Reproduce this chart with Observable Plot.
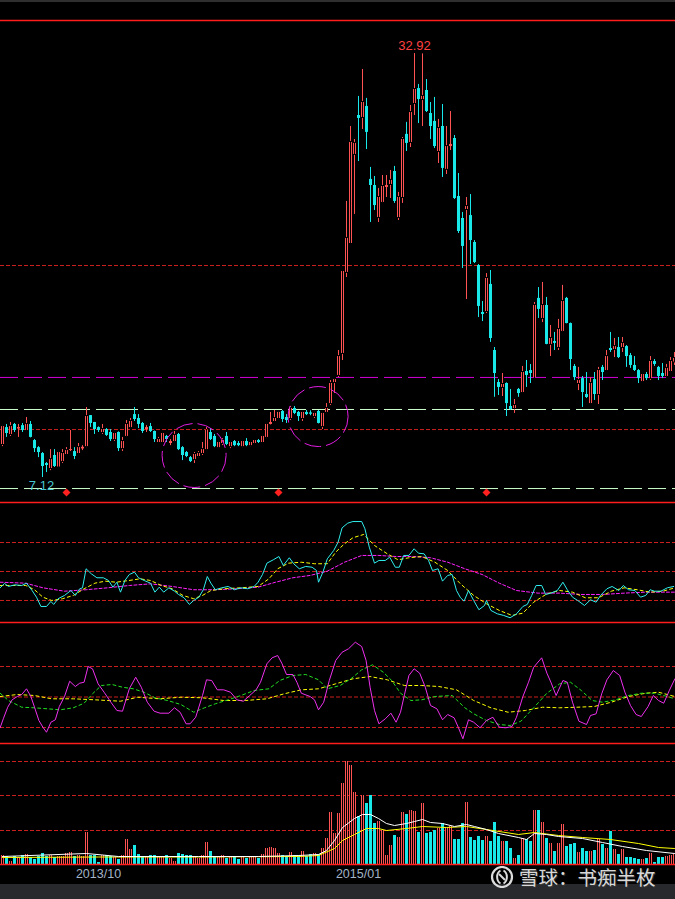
<!DOCTYPE html>
<html><head><meta charset="utf-8">
<script src="https://cdn.jsdelivr.net/npm/d3@7"></script>
<script src="https://cdn.jsdelivr.net/npm/@observablehq/plot@0.6"></script>
<style>
html,body{margin:0;padding:0;background:#000;}
#wrap{position:relative;width:675px;height:899px;background:#000;overflow:hidden;font-family:"Liberation Sans",Arial,sans-serif;}
.p{position:absolute;left:0;}
#topbar{position:absolute;left:0;top:0;width:675px;height:2px;background:#2f2f2f;}
#botbar{position:absolute;left:0;top:884px;width:675px;height:15px;background:#28292d;}
#wm{position:absolute;left:490px;top:866px;height:22px;display:flex;align-items:center;gap:5px;}
#wm span{font-family:"Noto Sans CJK SC",sans-serif;font-size:19.5px;line-height:22px;color:rgba(236,236,236,0.92);text-shadow:1px 1px 1px rgba(60,60,60,0.9);letter-spacing:0px;}
</style></head><body>
<div id="wrap">
  <div id="topbar"></div>
  <div id="botbar"></div>
  <div class="p" id="p1" style="top:0px"></div>
  <div class="p" id="p2" style="top:500px"></div>
  <div class="p" id="p3" style="top:620px"></div>
  <div class="p" id="p4" style="top:741px"></div>
  <div id="wm">
    <svg width="24" height="22" viewBox="0 0 24 22"><circle cx="12" cy="11" r="10" fill="none" stroke="#dcdcdc" stroke-width="2.2"/><path d="M10.5 4.5 C6 7 6 15 10.5 17.5" fill="none" stroke="#dcdcdc" stroke-width="2"/><path d="M13.5 4.5 C18 7 18 15 13.5 17.5" fill="none" stroke="#dcdcdc" stroke-width="2"/><path d="M9 8 L15 14" stroke="#dcdcdc" stroke-width="2"/></svg>
    <span>雪球：书痴半枚</span>
  </div>
</div>
<script>
// ---- weekly candles [open, high, low, close] ----
const candles = [
[9.13,10.28,9.00,10.22],[10.16,10.35,9.56,9.80],[9.74,10.47,9.62,10.22],[10.35,10.41,9.86,9.98],[10.07,10.35,9.56,10.16],
[10.28,10.41,9.86,9.98],[9.98,10.77,9.92,10.35],[10.35,10.53,9.53,9.56],[9.37,9.43,8.64,8.88],[8.94,9.00,8.33,8.64],
[8.58,8.64,7.12,7.79],[7.97,8.03,7.42,7.85],[7.67,8.82,7.54,8.21],[8.46,8.82,7.73,7.79],[7.76,8.67,7.73,8.64],
[8.09,8.82,7.97,8.58],[8.52,8.94,8.46,8.76],[8.76,9.98,8.70,8.82],[8.70,8.94,8.21,8.40],[8.58,9.19,8.52,8.94],
[8.86,9.06,8.76,8.96],[9.00,11.38,8.94,10.83],[10.89,10.89,10.16,10.41],[10.47,10.47,9.74,10.04],[10.16,10.20,9.86,9.98],
[9.86,10.35,9.74,10.04],[10.04,10.10,9.62,9.68],[9.86,10.04,9.31,9.43],[9.43,9.86,9.31,9.80],[9.86,9.90,8.70,8.88],
[8.88,9.56,8.70,9.31],[9.62,10.59,9.56,10.35],[10.16,10.71,10.10,10.53],[10.95,11.38,10.53,10.65],[10.71,10.95,10.10,10.35],
[10.41,10.47,9.80,9.92],[10.04,10.28,9.86,10.16],[10.22,10.41,9.86,9.92],[9.92,9.95,9.25,9.43],[9.25,9.56,9.19,9.43],
[9.25,9.86,9.19,9.80],[9.62,9.68,9.25,9.43],[9.19,9.43,9.06,9.31],[9.31,9.92,9.25,9.68],[9.74,9.80,8.76,8.82],
[8.94,9.00,8.15,8.46],[8.64,8.70,8.33,8.40],[8.33,8.40,8.03,8.09],[8.21,8.64,7.97,8.52],[8.40,8.70,8.33,8.58],
[8.58,9.25,8.46,8.82],[8.82,10.16,8.76,9.98],[9.86,10.10,9.37,9.43],[9.62,9.74,8.94,9.00],[8.94,9.31,8.88,9.25],
[9.19,9.49,9.06,9.37],[9.62,9.86,9.06,9.13],[9.00,9.31,8.88,9.25],[9.31,9.37,9.00,9.06],[9.19,9.31,9.00,9.06],
[9.00,9.37,8.94,9.31],[9.31,9.49,9.00,9.06],[9.06,9.31,9.00,9.25],[9.19,9.43,9.13,9.37],[9.37,9.43,9.19,9.25],
[9.25,9.68,9.22,9.62],[9.56,10.41,9.49,10.35],[10.35,11.08,10.32,10.47],[10.53,11.20,10.47,10.71],[10.71,11.14,10.65,11.08],
[11.14,11.20,10.47,10.65],[10.77,10.95,10.41,10.59],[10.71,11.44,10.59,11.32],[11.32,11.44,10.95,11.02],[11.08,11.14,10.53,10.83],
[10.71,11.14,10.53,11.08],[11.08,11.20,10.89,10.95],[11.05,11.18,10.88,10.97],[10.83,11.08,10.71,11.02],[11.14,11.20,10.38,10.41],
[10.22,11.08,10.04,11.02],[11.08,11.62,11.02,11.32],[11.62,13.02,11.50,12.84],[12.90,13.14,12.23,13.08],[13.33,14.85,13.20,14.48],
[14.67,19.72,14.24,19.66],[19.60,23.92,19.29,21.67],[21.36,28.48,21.30,27.51],[26.78,27.69,23.13,27.45],[29.15,30.31,26.35,28.97],
[29.03,31.95,28.30,29.94],[29.70,30.19,27.08,28.12],[25.26,25.99,22.64,24.89],[24.89,25.44,23.37,23.67],[22.94,24.71,22.64,24.16],
[23.86,25.50,23.80,24.83],[24.77,25.50,24.16,24.89],[24.95,25.80,24.10,25.20],[25.74,26.05,23.80,23.92],[22.94,24.47,22.76,24.16],
[24.16,27.81,23.80,27.69],[28.00,28.73,26.96,27.45],[27.51,29.76,27.20,29.33],[29.88,32.92,29.15,30.73],[30.79,31.04,28.66,30.12],
[30.12,32.90,28.48,30.31],[30.67,31.34,29.33,29.39],[29.27,29.94,27.69,28.48],[28.79,30.25,27.14,27.26],[26.96,28.91,26.23,28.36],
[28.48,29.82,25.38,25.93],[25.87,28.48,25.56,27.26],[27.26,29.39,27.02,27.39],[27.75,27.93,24.04,24.10],[24.22,25.62,21.97,22.09],
[22.88,23.25,19.84,21.18],[23.43,24.16,17.95,23.61],[23.06,24.34,20.08,21.54],[21.42,21.54,20.14,20.20],[20.02,20.08,16.86,17.53],
[17.16,17.83,16.61,17.04],[17.22,19.53,17.10,19.23],[18.87,19.72,15.34,15.58],[14.85,15.03,12.00,13.45],[12.90,13.08,12.11,12.60],
[12.60,13.45,12.05,12.78],[12.84,12.88,10.83,11.62],[11.44,12.48,11.20,11.26],[11.32,11.87,11.02,11.50],[12.48,12.54,12.00,12.23],
[12.29,13.88,12.23,13.51],[13.57,14.24,12.60,13.33],[13.63,14.00,12.84,13.45],[13.20,17.77,13.18,17.59],[18.02,18.68,16.80,17.35],
[16.80,18.99,16.55,17.59],[17.59,18.08,15.20,15.22],[15.22,16.37,14.48,15.58],[15.40,15.95,14.85,15.28],[15.03,16.74,14.85,16.13],
[16.01,18.81,15.95,17.83],[18.02,18.08,16.47,16.49],[16.49,16.52,13.63,14.30],[13.88,14.00,13.02,13.20],[12.84,13.82,12.41,13.02],
[13.14,13.27,11.38,12.29],[12.17,13.51,11.93,11.99],[11.62,13.20,11.60,12.84],[13.08,13.51,11.81,12.17],[12.17,13.82,11.56,13.63],
[13.82,13.94,13.02,13.51],[13.63,14.85,13.57,14.48],[14.97,15.95,14.73,14.85],[14.91,15.58,14.42,15.09],[15.03,15.64,14.36,14.42],
[15.03,15.64,14.73,15.28],[15.09,15.15,13.82,14.48],[14.54,14.67,13.76,13.94],[13.94,14.48,13.57,13.63],[13.63,13.69,12.84,13.14],
[12.96,13.45,12.90,13.39],[13.39,13.51,13.02,13.14],[13.14,14.48,13.02,14.18],[14.18,14.30,13.88,14.00],[13.82,13.88,13.02,13.27],
[13.45,14.06,13.14,13.27],[13.27,14.00,13.20,13.76],[13.57,14.42,13.51,14.18],[14.15,14.73,13.94,14.36]
];
// ---- weekly volume ----
const volumes = [
9,8,3,8,7,9,10,7,5,8, 11,8,9,7,8,8,11,12,8,9, 8,32,9,9,2,9,9,8,7,5, 9,25,15,19,10,8,7,9,9,8,
8,9,6,3,11,10,9,9,8,6, 9,22,13,8,7,9,6,8,7,5, 7,6,7,7,6,10,16,17,16,11, 9,8,12,9,9,13,8,10,11,10,
16,26,52,31,51,81,103,99,72,48, 69,61,69,41,43,34,9,19,29,27, 52,50,54,53,32,61,31,32,34,36,
41,37,38,25,25,41,62,27,24,28, 24,28,23,42,28,23,23,16,6,9, 26,25,23,54,54,42,26,21,13,21,
40,18,20,21,12,16,13,13,14,25, 20,16,33,15,10,15,7,7,6,5, 5,6,11,2,7,7,8,9,10
];
// volume moving averages [week, value]
const volMaWhite = [[0,8],[21,11],[29,8],[49,8],[64,8],[74,9],[79,10],[81,14],[83,24],[85,37],[88,46],[90,50],[92,50],[94,46],[96,41],[98,39],[101,41],[103,43],[105,45],[107,42],[110,41],[113,38],[116,40],[118,38],[121,35],[124,31],[129,27],[131,25],[133,31],[136,30],[139,28],[145,26],[150,22],[155,18],[161,14],[168,11]];
const volMaYellow = [[0,7],[24,7.5],[49,7.5],[74,8],[79,9],[83,16],[85,24],[88,30],[91,36],[94,36],[96,34],[101,36],[105,38],[111,37],[116,38],[121,35],[129,30],[133,32],[139,29],[145,27],[152,25],[159,21],[164,17],[168,16]];
// ---- indicator panel 1 [week, value] ----
const ind1Fast = [[-0.6,33.1],[0.5,37.6],[1.5,34.5],[3.1,36.2],[4.8,35.5],[6.0,37.9],[7.4,30.3],[8.5,23.4],[9.6,13.8],[11.0,13.8],[12.1,19.0],[12.8,15.9],[13.9,21.8],[15.5,25.2],[17.1,30.3],[18.2,25.2],[19.3,32.1],[20.0,33.1],[20.9,52.8],[22.2,47.6],[23.6,43.5],[25.2,43.5],[26.5,40.7],[27.6,33.8],[28.6,38.9],[29.5,28.6],[30.6,40.7],[31.7,46.9],[33.0,49.3],[34.0,43.5],[35.4,40.7],[37.0,37.9],[38.1,28.6],[39.2,33.8],[40.3,28.6],[41.6,33.1],[43.0,29.6],[44.0,26.2],[45.4,22.8],[46.7,15.9],[47.8,20.0],[49.1,23.4],[50.2,31.1],[51.2,44.8],[52.1,37.9],[53.2,31.1],[54.8,33.1],[56.4,34.5],[58.0,31.1],[59.6,33.1],[61.3,32.1],[62.9,34.5],[63.9,38.9],[65.0,46.9],[66.1,58.6],[67.7,62.1],[69.1,65.5],[70.2,56.2],[71.7,64.2],[72.8,58.0],[74.2,52.8],[75.8,55.2],[77.4,54.4],[78.5,51.0],[79.0,38.9],[80.1,49.3],[81.2,63.1],[82.8,71.7],[83.9,80.3],[84.9,95.2],[86.3,100.0],[87.6,101.7],[89.8,101.7],[90.6,94.2],[91.7,75.1],[93.0,58.6],[94.1,61.4],[95.7,61.4],[96.8,64.8],[98.2,54.4],[99.2,54.4],[100.3,66.6],[101.6,66.6],[102.9,73.5],[104.0,68.9],[105.4,68.3],[106.5,61.4],[107.5,51.0],[108.9,52.8],[110.0,40.0],[111.3,45.9],[112.4,46.9],[113.5,30.3],[114.5,22.8],[115.4,19.3],[116.5,30.3],[117.8,20.0],[119.1,10.4],[120.5,14.8],[121.0,20.0],[122.1,9.7],[123.7,6.2],[125.3,4.5],[126.9,2.1],[128.5,6.2],[130.1,13.8],[131.2,15.9],[132.3,25.2],[133.4,35.5],[134.8,35.5],[135.8,26.2],[137.1,27.6],[138.7,30.3],[140.1,38.9],[141.2,31.1],[142.5,23.4],[143.8,20.0],[145.5,14.8],[147.0,20.7],[148.4,18.2],[149.5,25.2],[151.1,32.1],[152.4,34.5],[154.1,30.3],[155.2,35.5],[156.5,31.1],[158.1,30.3],[159.5,23.4],[160.8,25.2],[161.9,31.1],[163.0,29.6],[164.6,29.6],[166.2,33.1],[167.8,34.5]];
const ind1Mid = [[-0.6,35.5],[2.6,35.5],[5.8,35.5],[8.0,31.1],[10.1,23.4],[12.3,20.0],[15.0,21.8],[17.7,25.2],[20.4,32.1],[23.1,37.9],[25.7,40.0],[28.4,38.9],[31.7,40.7],[34.4,42.4],[37.0,40.7],[39.7,35.5],[42.4,32.1],[45.1,25.2],[47.8,21.8],[50.0,25.2],[52.1,30.3],[55.3,32.1],[59.6,33.1],[63.9,34.5],[66.6,42.4],[68.8,52.8],[71.5,58.6],[74.7,59.6],[78.0,58.0],[81.2,58.0],[83.3,70.0],[85.5,78.7],[87.6,84.9],[90.3,88.3],[93.0,76.9],[96.2,68.3],[98.9,62.1],[101.6,64.2],[104.8,65.5],[108.1,59.6],[111.3,51.0],[114.5,37.2],[117.8,25.2],[121.0,16.6],[124.2,9.7],[127.4,4.5],[130.1,6.9],[132.8,18.2],[136.1,26.9],[139.3,30.3],[142.5,28.6],[145.7,22.8],[149.0,22.8],[152.2,29.6],[155.4,33.1],[158.7,31.1],[161.9,28.6],[165.1,29.6],[168.1,33.1]];
const ind1Slow = [[-0.6,38.9],[5.8,37.9],[10.1,33.1],[15.5,29.6],[20.9,31.1],[26.3,33.1],[31.7,35.5],[37.0,37.2],[42.4,34.5],[47.8,31.1],[53.2,31.1],[58.6,32.1],[63.9,33.8],[68.3,38.9],[72.6,43.5],[76.9,45.9],[81.2,50.3],[85.5,59.6],[89.8,66.6],[94.1,66.6],[98.4,65.5],[102.7,65.5],[107.0,64.2],[111.3,59.6],[115.6,52.8],[119.9,46.9],[124.2,37.9],[128.5,30.3],[133.9,27.6],[139.3,27.6],[144.7,26.2],[150.0,26.2],[155.4,27.6],[160.8,28.6],[168.1,28.6]];
// ---- indicator panel 2 [week, value] ----
const ind2Main = [[-0.6,-101],[0.2,-71.5],[1.3,-33.5],[2.4,-9.2],[3.7,1.6],[4.8,8.2],[6.0,26.9],[7.1,1.6],[8.0,-33.5],[9.1,-77.1],[10.1,-99],[11.0,-115.5],[12.1,-82.7],[13.2,-74.8],[14.2,-31.2],[15.5,1.6],[16.8,51.8],[18.2,34.4],[19.3,45.3],[20.4,48.5],[21.4,100],[22.5,92.5],[23.9,43.3],[25.4,15.7],[27.1,-17.1],[28.6,-44.3],[30.0,-46.6],[31.7,26.9],[33.3,64.9],[34.7,32.1],[36.2,-17.1],[37.9,-46.6],[39.4,-53.1],[41.6,-53.1],[43.0,-35.4],[44.4,-49.9],[45.9,-87.9],[46.9,-87.9],[48.3,-66.3],[50.0,4.9],[51.0,56.4],[52.3,54.1],[53.7,23.6],[55.3,23.6],[57.0,15.7],[58.6,-9.2],[60.2,-13.8],[61.8,4.9],[63.4,23.6],[64.5,48.5],[66.1,108.9],[67.4,128.6],[68.8,136.1],[69.9,108.9],[71.0,73.8],[72.6,73.8],[73.6,48.5],[74.7,12.5],[76.9,1.6],[78.0,-9.2],[79.0,-42.0],[80.3,-17.1],[81.7,54.1],[83.3,119.7],[84.9,146.9],[86.5,158.1],[88.2,179.7],[89.8,165.6],[90.9,119.7],[91.9,32.1],[93.0,-44.3],[94.1,-87.9],[95.7,-71.5],[97.1,-53.1],[98.4,-82.7],[99.5,-49.9],[100.5,8.2],[101.6,70.5],[102.9,92.5],[104.3,78.1],[105.7,32.1],[107.0,-27.9],[108.6,-38.7],[110.0,-74.8],[111.3,-57.4],[112.9,-68.2],[114.0,-101],[115.1,-137.1],[116.5,-74.8],[117.8,-82.7],[119.4,-101],[121.0,-77.1],[122.6,-66.3],[124.2,-99],[125.8,-101],[127.4,-96.8],[128.5,-66.3],[130.1,1.6],[131.5,48.5],[132.8,97.7],[134.8,128.6],[136.1,78.1],[137.1,48.5],[138.4,4.9],[140.1,54.1],[141.2,48.5],[142.5,-17.1],[144.1,-79.4],[146.0,-90.2],[147.0,-60.7],[148.4,-55.1],[149.8,10.5],[151.1,56.4],[152.7,86.9],[154.3,70.5],[155.6,15.7],[157.0,-27.9],[158.4,-57.4],[159.7,-64.0],[161.4,-31.2],[162.7,4.9],[164.0,-11.5],[165.3,-20.3],[166.7,21.3],[168.1,59.7]];
const ind2Green = [[-0.6,12.5],[1.5,-11.5],[4.8,-33.5],[8.0,-35.4],[11.2,-38.7],[14.4,-42.0],[17.7,-35.4],[20.4,-20.3],[22.5,10.5],[24.7,37.7],[27.4,41.0],[30.0,32.1],[32.7,26.9],[35.4,15.7],[38.1,-2.6],[41.3,-11.5],[44.6,-24.6],[47.8,-49.9],[50.5,-35.4],[53.2,-22.3],[56.4,-9.2],[59.6,4.9],[62.9,21.3],[66.6,26.9],[69.3,54.1],[72.6,70.5],[75.8,73.8],[79.0,56.4],[81.2,26.9],[84.4,37.7],[87.1,59.7],[89.8,89.2],[92.5,105.6],[95.2,81.3],[97.3,54.1],[99.5,12.5],[102.1,-11.5],[104.8,-9.2],[108.1,1.6],[112.4,4.9],[115.6,-35.4],[117.8,-55.1],[121.0,-77.1],[124.2,-90.2],[126.9,-93.5],[129.6,-79.4],[132.8,-35.4],[136.1,12.5],[139.3,43.3],[142.0,48.5],[144.7,21.3],[147.4,-11.5],[150.0,-17.1],[153.3,-9.2],[156.5,4.9],[159.7,12.5],[163.0,12.5],[166.2,1.6],[168.1,-5.9]];
const ind2Yellow = [[-0.6,1.6],[3.7,8.2],[8.0,4.9],[12.3,-5.9],[17.7,-5.9],[23.1,-9.2],[29.5,-13.8],[33.8,-0.7],[39.2,-5.9],[44.6,-0.7],[50.0,-2.6],[55.3,-11.5],[60.7,-11.5],[66.1,-5.9],[70.4,10.5],[74.7,23.6],[79.0,26.9],[83.3,43.3],[87.6,59.7],[91.9,67.2],[96.2,56.4],[100.5,37.7],[104.8,37.7],[109.1,34.4],[113.5,23.6],[117.8,-11.5],[122.1,-35.4],[126.4,-49.9],[130.7,-44.3],[135.0,-33.5],[139.3,-35.4],[143.6,-33.5],[147.9,-31.2],[152.2,-17.1],[156.5,1.6],[160.8,12.5],[164.0,15.7],[168.1,1.6]];
// ---- annotations ----
const levelPrices = [20.02, 13.21, 11.26, 10.04, 6.45];
const levelKinds  = ["red", "magenta", "green", "red", "green"];
const extremeWeeks  = [103, 10];
const extremePrices = [32.92, 7.12];
const extremeLabels = ["32.92", "7.12"];
const signalWeeks = [16, 69, 121];
const signalPrice = 6.21;
const circleWeeks  = [47.9, 78.9];
const circlePrices = [8.46, 10.83];
const circleRadii  = [32, 30];
const ind1Levels = [80, 50, 20];
const ind2Levels = [100, 0, -100];
const volLevels = [34, 69, 103];
const tickWeeks = [24, 89];
const tickLabels = ["2013/10", "2015/01"];

// ---- build ----
const W = 675;
const N = candles.length;
const UP = "#ff5252", DN = "#19e8e8", BORDER = "#ff1c1c", GRID = "#cc1f1f";
const xOpt = {domain: [-0.5, N - 0.75], axis: null};
const baseStyle = {background: "transparent", overflow: "visible", fontFamily: "Liberation Sans, Arial, sans-serif"};
const bars = candles.map(([o, h, l, c], i) => ({i, o, h, l, c, up: c >= o, col: c >= o ? UP : DN, v: volumes[i]}));
const levels = levelPrices.map((p, k) => ({p, kind: levelKinds[k]}));
const extremes = extremeWeeks.map((w, k) => ({w, p: extremePrices[k], label: extremeLabels[k]}));
const circles = circleWeeks.map((w, k) => ({w, p: circlePrices[k], r: circleRadii[k]}));
const ticks = tickWeeks.map((w, k) => ({w, label: tickLabels[k]}));
const P = d => d[0], V = d => d[1];
const pDomain = [5.60, 34.93];

const p1 = Plot.plot({
  width: W, height: 504, marginTop: 20, marginBottom: 2, marginLeft: 0, marginRight: 0,
  x: xOpt, y: {domain: pDomain, axis: null}, r: {type: "identity"}, style: baseStyle,
  marks: [
    Plot.ruleY(levels.filter(d => d.kind === "red"), {y: "p", stroke: GRID, strokeDasharray: "4,2"}),
    Plot.ruleY(levels.filter(d => d.kind === "magenta"), {y: "p", stroke: "#d400d4", strokeDasharray: "18,6"}),
    Plot.ruleY(levels.filter(d => d.kind === "green"), {y: "p", stroke: "#ccffcc", strokeDasharray: "18,6"}),
    Plot.ruleX(bars, {x: "i", y1: "l", y2: "h", stroke: "col"}),
    Plot.ruleX(bars, {x: "i", y1: "o", y2: "c", stroke: "col", strokeWidth: 3}),
    Plot.ruleX(bars.filter(d => d.up && d.c - d.o > 0.15), {x: "i", y1: "o", y2: "c", stroke: "#000", strokeWidth: 1, insetTop: 1, insetBottom: 1}),
    Plot.dot(circles, {x: "w", y: "p", r: "r", stroke: "#e21ee2", fill: "none", strokeWidth: 1, strokeDasharray: "17,5"}),
    Plot.dot(signalWeeks, {x: d => d, y: () => signalPrice, symbol: "diamond2", r: 3.6, fill: "#ff2020", stroke: "none"}),
    Plot.text(extremes.slice(0, 1), {x: "w", y: "p", text: "label", dy: -8, fill: "#ff4040", fontSize: 13}),
    Plot.text(extremes.slice(1), {x: "w", y: "p", text: "label", dy: 8, dx: -1, fill: "#46c8d2", fontSize: 13}),
    Plot.ruleY([pDomain[1], pDomain[0]], {stroke: BORDER, strokeWidth: 1.5})
  ]
});
document.getElementById("p1").appendChild(p1);

const d1 = [-2.8, 121.4];
const p2 = Plot.plot({
  width: W, height: 124, marginTop: 2, marginBottom: 2, marginLeft: 0, marginRight: 0,
  x: xOpt, y: {domain: d1, axis: null}, style: baseStyle,
  marks: [
    Plot.ruleY(ind1Levels, {stroke: GRID, strokeDasharray: "4,2"}),
    Plot.line(ind1Slow, {x: P, y: V, stroke: "#ff22ff", strokeWidth: 1, strokeDasharray: "3,2"}),
    Plot.line(ind1Mid, {x: P, y: V, stroke: "#ffff00", strokeWidth: 1, strokeDasharray: "3,3"}),
    Plot.line(ind1Fast, {x: P, y: V, stroke: "#30eeee", strokeWidth: 1}),
    Plot.ruleY([d1[0]], {stroke: BORDER, strokeWidth: 1.5})
  ]
});
document.getElementById("p2").appendChild(p2);

const d2 = [-152.5, 244.4];
const p3 = Plot.plot({
  width: W, height: 125, marginTop: 2, marginBottom: 2, marginLeft: 0, marginRight: 0,
  x: xOpt, y: {domain: d2, axis: null}, style: baseStyle,
  marks: [
    Plot.ruleY(ind2Levels, {stroke: GRID, strokeDasharray: "4,2"}),
    Plot.line(ind2Yellow, {x: P, y: V, stroke: "#ffff00", strokeWidth: 1, strokeDasharray: "3,3"}),
    Plot.line(ind2Green, {x: P, y: V, stroke: "#22e022", strokeWidth: 1, strokeDasharray: "3,3"}),
    Plot.line(ind2Main, {x: P, y: V, stroke: "#ee30ee", strokeWidth: 1}),
    Plot.ruleY([d2[0]], {stroke: BORDER, strokeWidth: 1.5})
  ]
});
document.getElementById("p3").appendChild(p3);

const p4 = Plot.plot({
  width: W, height: 158, marginTop: 2, marginBottom: 35, marginLeft: 0, marginRight: 0,
  x: xOpt, y: {domain: [0, 121], axis: null}, style: baseStyle,
  marks: [
    Plot.ruleY(volLevels, {stroke: GRID, strokeDasharray: "4,2"}),
    Plot.ruleX(bars, {x: "i", y1: 0, y2: "v", stroke: "col", strokeWidth: 3}),
    Plot.ruleX(bars.filter(d => d.up && d.v > 2), {x: "i", y1: 0, y2: "v", stroke: "#000", strokeWidth: 1, insetTop: 1}),
    Plot.line(volMaYellow, {x: P, y: V, stroke: "#ffff00", strokeWidth: 1}),
    Plot.line(volMaWhite, {x: P, y: V, stroke: "#ffffff", strokeWidth: 1}),
    Plot.ruleY([0], {stroke: BORDER, strokeWidth: 1.5}),
    Plot.text(ticks, {x: "w", y: () => 0, text: "label", dy: 9, fill: "#a3b4c8", fontSize: 12.5})
  ]
});
document.getElementById("p4").appendChild(p4);
</script>
</body></html>
